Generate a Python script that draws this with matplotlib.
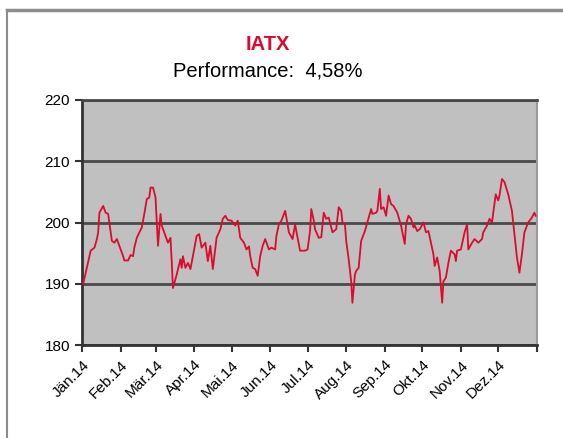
import matplotlib
matplotlib.use("Agg")
import matplotlib.pyplot as plt
from matplotlib.lines import Line2D
import pandas as pd

plt.rcParams['font.family'] = ['Liberation Sans', 'DejaVu Sans']

# day offsets from 2014-01-01 and IATX values
days = [1, 7, 10, 12, 13, 14, 17, 19, 21, 24, 26, 28, 30, 33, 34, 37, 39, 41, 42, 44,
        48, 50, 52, 54, 55, 57, 59, 61, 63, 64, 67, 69, 71, 72, 73, 76, 79, 80, 81, 83,
        85, 87, 89, 92, 94, 96, 99, 101, 103, 105, 108, 111, 113, 115, 117, 120, 123, 125, 127, 130,
        132, 134, 135, 137, 139, 141, 143, 145, 147, 150, 152, 155, 156, 158, 160, 163, 165, 166, 169, 171,
        173, 175, 179, 181, 183, 184, 186, 187, 190, 192, 194, 196, 198, 200, 201, 204, 206, 208, 209, 211,
        212, 214, 216, 217, 219, 220, 222, 224, 227, 230, 232, 233, 236, 237, 239, 240, 242, 244, 246, 248,
        250, 253, 256, 259, 260, 262, 264, 266, 267, 269, 271, 274, 276, 278, 280, 282, 283, 285, 287, 289,
        290, 292, 294, 296, 299, 300, 301, 304, 307, 309, 310, 313, 315, 318, 321, 322, 325, 327, 329, 330,
        332, 334, 335, 337, 339, 342, 345, 347, 349, 351, 353, 355, 358, 361, 363, 364]
values = [190.0, 195.4, 195.9, 197.3, 198.4, 201.6, 202.7, 201.6, 201.4, 197.0, 196.7, 197.3, 196.2, 194.5, 193.8, 193.8, 194.7, 194.5, 195.9, 197.5,
          199.2, 201.4, 203.8, 204.1, 205.7, 205.7, 204.1, 196.2, 201.4, 199.5, 197.8, 196.7, 197.5, 193.7, 189.3, 191.5, 194.0, 192.6, 194.5, 192.6,
          193.4, 192.4, 194.5, 197.8, 198.1, 195.9, 196.7, 193.7, 196.2, 192.4, 197.5, 198.9, 200.6, 201.1, 200.4, 200.3, 199.5, 200.3, 197.5, 196.7,
          195.6, 196.1, 194.5, 192.6, 192.4, 191.3, 194.5, 196.2, 197.3, 195.6, 195.9, 195.6, 197.8, 199.7, 200.3, 201.9, 199.7, 198.4, 197.3, 199.7,
          197.5, 195.4, 195.4, 195.6, 198.6, 202.2, 200.3, 198.9, 197.5, 197.6, 201.6, 200.6, 200.8, 199.2, 198.4, 198.9, 202.5, 201.9, 200.0, 199.7,
          197.0, 194.0, 190.4, 186.9, 191.5, 192.1, 192.6, 197.0, 198.6, 200.8, 202.2, 201.4, 201.6, 201.9, 205.5, 202.2, 202.5, 201.1, 204.4, 203.0,
          202.7, 201.6, 199.5, 196.5, 199.7, 201.1, 200.6, 199.2, 199.5, 198.6, 198.9, 200.0, 198.4, 198.6, 196.7, 194.8, 192.9, 194.3, 192.1, 186.9,
          190.4, 191.0, 193.4, 195.4, 194.8, 193.7, 195.4, 195.6, 198.4, 199.7, 195.6, 196.7, 197.3, 196.7, 197.3, 198.4, 199.5, 200.6, 200.0, 201.6,
          204.6, 203.6, 204.4, 207.1, 206.6, 204.6, 201.9, 198.1, 194.3, 191.8, 194.8, 198.4, 200.0, 200.8, 201.6, 201.1]

month_labels = ["Jän.14", "Feb.14", "Mär.14", "Apr.14", "Mai.14", "Jun.14",
                "Jul.14", "Aug.14", "Sep.14", "Okt.14", "Nov.14", "Dez.14"]
y_ticks = [180, 190, 200, 210, 220]

title_main = "IATX"
title_sub = "Performance:  4,58%"

dates = pd.Timestamp("2014-01-01") + pd.to_timedelta(days, unit="D")
month_starts = pd.date_range("2014-01-01", periods=13, freq="MS")

fig = plt.figure(figsize=(5.63, 4.38), dpi=100)
fig.patch.set_facecolor("white")
ax = fig.add_axes([0.1456, 0.2123, 0.808, 0.5594])
ax.set_facecolor("#C0C0C0")

ax.plot(dates, values, color="#DC0A2D", lw=1.3, zorder=3)

ax.set_xlim(month_starts[0], month_starts[-1])
ax.set_ylim(180, 220)
ax.set_yticks(y_ticks)
ax.set_yticklabels([str(v) for v in y_ticks], fontsize=11)
ax.set_xticks(month_starts)
ax.set_xticklabels(month_labels + [""], fontsize=11, rotation=45,
                   ha="right", rotation_mode="anchor")
ax.grid(axis="y", color="#4a4a4a", lw=2.0, zorder=1)
ax.tick_params(axis="both", direction="out", length=5, width=1.5, color="#333333")
ax.tick_params(axis="x", pad=4)
for side in ["left", "bottom"]:
    ax.spines[side].set_color("#333333")
    ax.spines[side].set_linewidth(2)
ax.spines["top"].set_color("#4a4a4a")
ax.spines["top"].set_linewidth(2)
ax.spines["right"].set_color("#9a9a9a")
ax.spines["right"].set_linewidth(1.5)

fig.text(0.475, 1 - 45 / 438, title_main, color="#DC0A2D", fontsize=14.5,
         fontweight="bold", ha="center", va="center")
fig.text(0.475, 1 - 71 / 438, title_sub, color="black", fontsize=14.5,
         ha="center", va="center")

# outer frame lines (top and left)
fig.add_artist(Line2D([7 / 563, 1.0], [1 - 10 / 438, 1 - 10 / 438],
                      transform=fig.transFigure, color="#8c8c8c", lw=2.5))
fig.add_artist(Line2D([7 / 563, 7 / 563], [0, 1 - 10 / 438],
                      transform=fig.transFigure, color="#8c8c8c", lw=1.5))

fig.savefig("out.png", dpi=100)
